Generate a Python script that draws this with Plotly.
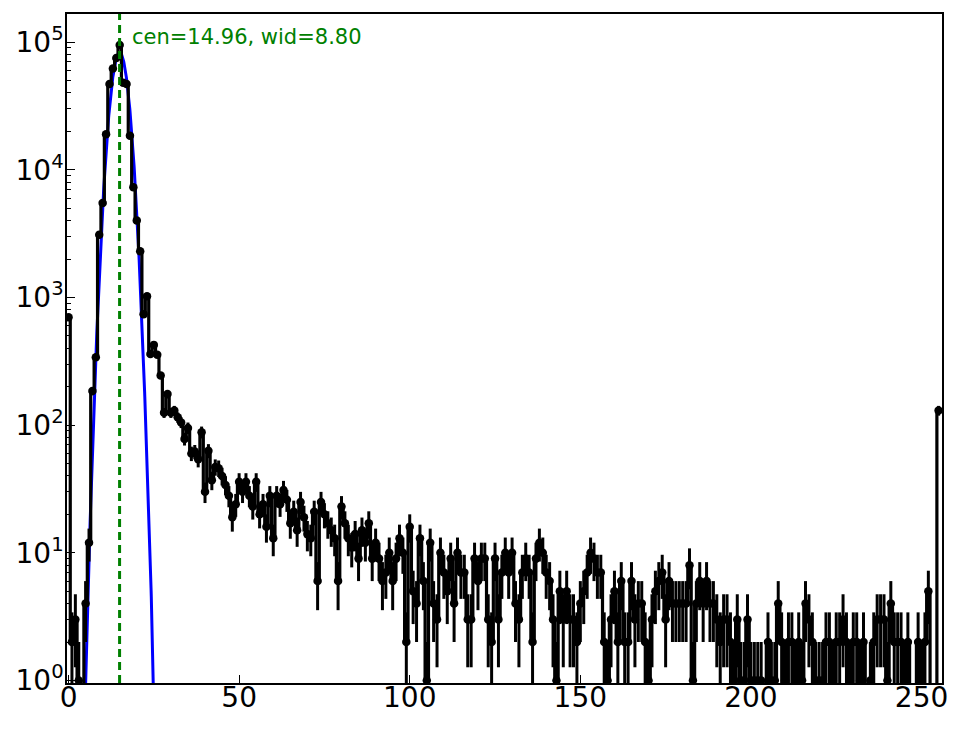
import numpy as np
import plotly.graph_objects as go

# pulse height spectrum, 256 channels (counts per channel)
channels = list(range(256))
counts = [
    700, 2, 3, 1, 0, 4, 12, 185, 340, 3100, 5500, 19000, 47000, 62000, 75000, 95000,
    48000, 47000, 18500, 7300, 4000, 2300, 740, 1020, 360, 425, 355, 245, 125, 175, 125, 130,
    115, 105, 78, 95, 60, 62, 54, 88, 30, 63, 37, 47, 46, 40, 34, 28,
    19, 24, 36, 30, 36, 28, 23, 36, 20, 24, 16, 28, 13, 28, 24, 31,
    26, 17, 21, 15, 25, 19, 14, 13, 21, 6, 25, 20, 17, 15, 13, 6,
    23, 17, 13, 11, 14, 9, 15, 12, 17, 9, 12, 9, 6, 7, 10, 6,
    9, 13, 10, 2, 16, 5, 4, 13, 6, 1, 12, 4, 3, 10, 7, 5,
    9, 4, 10, 7, 7, 3, 3, 9, 6, 9, 9, 3, 2, 9, 3, 7,
    10, 7, 10, 4, 3, 7, 9, 7, 2, 9, 12, 10, 7, 6, 3, 1,
    5, 3, 5, 3, 3, 2, 4, 5, 7, 10, 9, 7, 7, 2, 1, 3,
    5, 2, 6, 2, 2, 6, 3, 4, 4, 2, 1, 3, 5, 6, 7, 3,
    6, 4, 4, 4, 4, 4, 8, 1, 4, 6, 4, 6, 4, 4, 3, 2,
    3, 3, 2, 1, 3, 1, 1, 3, 1, 1, 1, 1, 0, 2, 1, 1,
    4, 2, 1, 2, 2, 1, 2, 1, 4, 3, 2, 1, 1, 1, 2, 2,
    1, 2, 2, 3, 2, 1, 2, 2, 1, 2, 0, 1, 2, 3, 3, 3,
    1, 4, 2, 2, 2, 1, 2, 0, 0, 2, 1, 2, 5, 0, 0, 130,
]

# gaussian fit  A*exp(-(x-cen)^2/wid)
fit_amp = 83000
fit_cen = 14.96
fit_wid = 8.80

x_ticks = [0, 50, 100, 150, 200, 250]
y_ticks = [1, 10, 100, 1000, 10000, 100000]
y_ticktext = ['10<sup>%d</sup>' % i for i in range(6)]

cnt = np.array(counts, dtype=float)
err = np.sqrt(cnt)
# empty channels fall off the bottom of the log axis (like matplotlib does)
y_plot = np.where(cnt > 0, cnt, 1e-3)

xf = np.linspace(0, 30, 601)
yf = fit_amp * np.exp(-(xf - fit_cen) ** 2 / fit_wid)

fig = go.Figure()

fig.add_trace(go.Scatter(x=xf, y=yf, mode='lines',
                         line=dict(color='#0000ff', width=3)))

fig.add_trace(go.Scatter(
    x=channels, y=y_plot, mode='lines+markers',
    line=dict(color='black', width=3.2, shape='hvh'),
    marker=dict(color='black', size=8.5),
    error_y=dict(type='data', array=err, color='black', thickness=3, width=0),
))

fig.add_shape(type='line', x0=fit_cen, x1=fit_cen, y0=0, y1=1, yref='paper',
              line=dict(color='#008000', width=3, dash='8px,5px'))

fig.add_annotation(x=fit_cen + 3.0, y=np.log10(1.1e5), xanchor='left', yanchor='middle',
                   text='cen=%.2f, wid=%.2f' % (fit_cen, fit_wid), showarrow=False,
                   font=dict(color='#008000', size=21))

minor_y = [m * 10 ** e for e in range(6) for m in range(2, 10)]

# page body has an 8px margin, so the figure is 16px smaller than the window
fig.update_layout(
    width=948, height=713,
    margin=dict(l=59, r=14, t=6, b=38),
    paper_bgcolor='white', plot_bgcolor='white',
    showlegend=False,
    font=dict(family='DejaVu Sans', size=28, color='black'),
    xaxis=dict(range=[-0.45, 256.0], tickvals=x_ticks, ticks='inside', ticklen=8,
               tickwidth=1.3, tickcolor='black', showgrid=False, zeroline=False,
               automargin=False, ticklabelstandoff=-11,
               showline=True, mirror=True, linecolor='black', linewidth=1.5),
    yaxis=dict(type='log', range=[-0.02, 5.22], tickvals=y_ticks, ticktext=y_ticktext,
               ticks='inside', ticklen=8, tickwidth=1.3, tickcolor='black',
               ticklabelstandoff=-4,
               minor=dict(tickvals=minor_y, ticks='inside', ticklen=4, tickwidth=1,
                          tickcolor='black', showgrid=False),
               showgrid=False, zeroline=False, automargin=False,
               showline=True, mirror=True, linecolor='black', linewidth=1.5),
)

fig.write_html("out.html")
